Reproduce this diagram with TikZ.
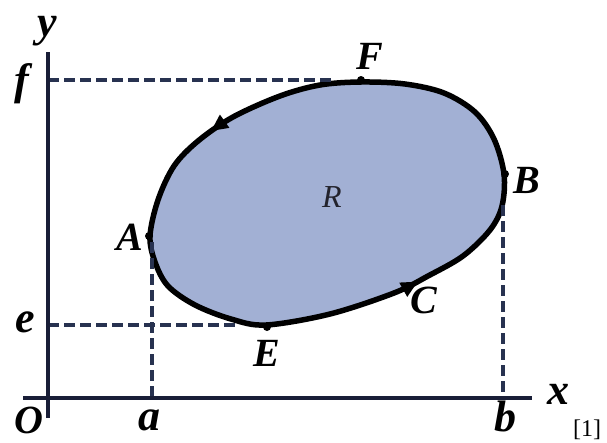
\documentclass[tikz,border=0pt]{standalone}
\usepackage{fontspec}
\setmainfont{Liberation Serif}
\usetikzlibrary{decorations.markings,arrows.meta}
\definecolor{regfill}{RGB}{162,176,212}
\definecolor{axiscol}{RGB}{25,30,55}
\definecolor{dashcol}{RGB}{40,50,80}
\definecolor{rcol}{RGB}{35,35,45}
\begin{document}
\begin{tikzpicture}[x=1pt,y=-1pt,
  caplab/.style={font=\fontsize{40}{40}\selectfont\bfseries\itshape, inner sep=0pt},
  lowlab/.style={font=\fontsize{44}{44}\selectfont\bfseries\itshape, inner sep=0pt},
  axisline/.style={line width=3.2pt, draw=axiscol},
  guide/.style={line width=3.5pt, draw=dashcol, dash pattern=on 11pt off 5pt},
  boundary/.style={line width=5.5pt, draw=black, fill=regfill, line join=round,
    postaction={decorate, decoration={markings,
      mark=at position 0.311 with {\arrow{Triangle[length=17pt,width=15pt]}},
      mark=at position 0.839 with {\arrow{Triangle[length=17pt,width=15pt]}}}}},
  dotpt/.style={circle, fill=black, inner sep=0pt, minimum size=8pt}
]
\useasboundingbox (0,0) rectangle (607,442);

% key coordinates
\coordinate (yb) at (48,418);
\coordinate (yt) at (48,52);
\coordinate (xl) at (23,398);
\coordinate (xr) at (532,398);
\coordinate (fy) at (48,80);
\coordinate (fend) at (335,80);
\coordinate (ey) at (48,325);
\coordinate (eend) at (240,325);
\coordinate (ax) at (152,398);
\coordinate (atop) at (152,242);
\coordinate (bx) at (503,398);
\coordinate (btop) at (503,205);

% region
\draw[boundary] plot[smooth cycle, tension=0.55] coordinates {
  (150,236) (155,262) (168,286) (195,305) (231,319) (266,325)
  (330,314) (394,293) (428,276) (463,256) (490,230)
  (502,206) (504,174) (494,139) (475,112) (444,93) (405,84)
  (361,82) (320,85) (280,96) (233,117) (198,141) (174,166) (158,200)};

% dashed guides
\draw[guide] (fy) -- (fend);
\draw[guide] (ey) -- (eend);
\draw[guide] (atop) -- (ax);
\draw[guide] (btop) -- (bx);

% axes
\draw[axisline] (yb) -- (yt);
\draw[axisline] (xl) -- (xr);

% points
\node[dotpt] (dA) at (149,236) {};
\node[dotpt] (dB) at (505,174) {};
\node[dotpt] (dE) at (267,327) {};
\node[dotpt] (dF) at (361,80) {};

% labels
\node[lowlab] (ly) at (47,31) {y};
\node[lowlab] (lf) at (22,84) {f};
\node[caplab] (lF) at (370,56) {F};
\node[caplab] (lB) at (527,180) {B};
\node[font=\fontsize{32}{32}\selectfont\itshape, text=rcol, inner sep=0pt] (lR) at (332,197) {R};
\node[caplab] (lA) at (130,237) {A};
\node[caplab] (lC) at (424,300) {C};
\node[lowlab] (le) at (25,322) {e};
\node[caplab] (lE) at (267,353) {E};
\node[lowlab] (lx) at (558,394) {x};
\node[caplab] (lO) at (29,420) {O};
\node[lowlab] (la) at (149,420) {a};
\node[lowlab] (lb) at (505,416) {b};
\node[font=\fontsize{24}{24}\selectfont, inner sep=0pt] (ref) at (587,430) {[1]};
\end{tikzpicture}
\end{document}
